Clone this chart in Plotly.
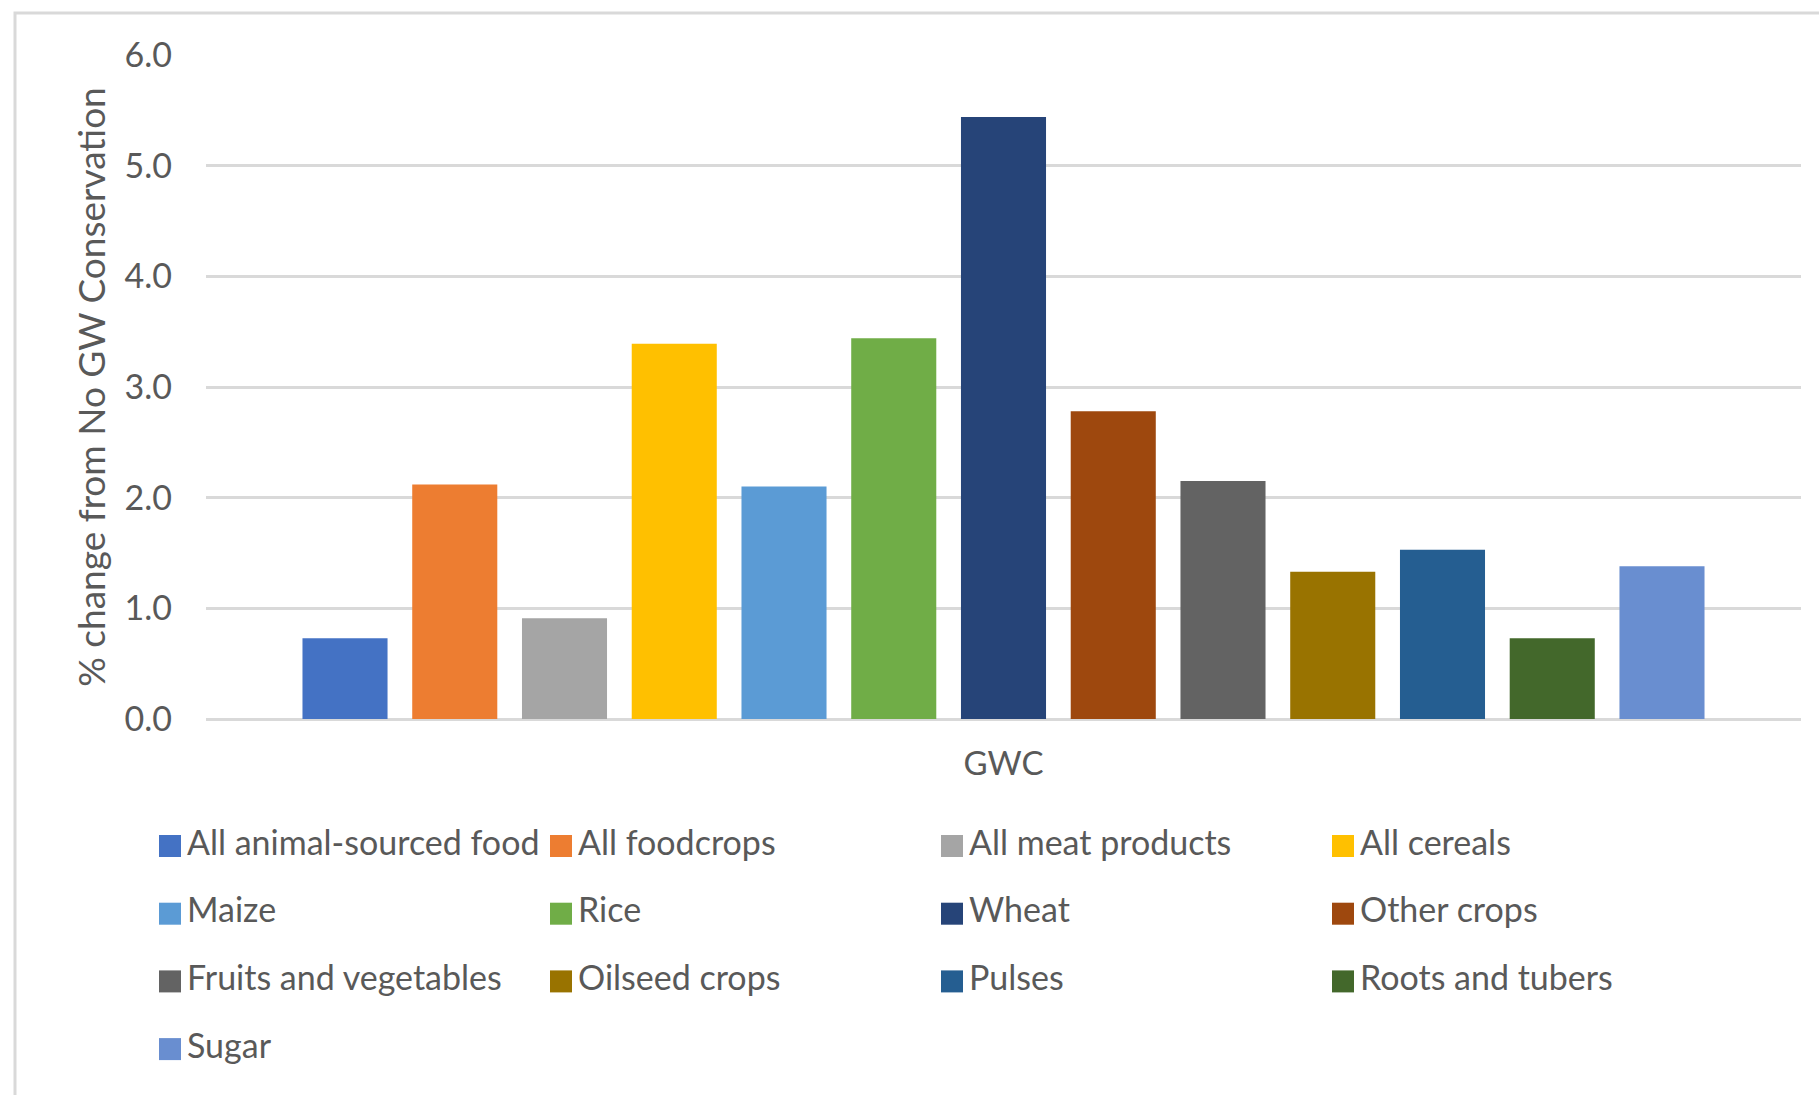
import plotly.graph_objects as go

# ---- data ----
category = ["GWC"]
series_names = [
    "All animal-sourced food", "All foodcrops", "All meat products", "All cereals",
    "Maize", "Rice", "Wheat", "Other crops",
    "Fruits and vegetables", "Oilseed crops", "Pulses", "Roots and tubers",
    "Sugar",
]
series_values = [0.73, 2.12, 0.91, 3.39, 2.10, 3.44, 5.44, 2.78, 2.15, 1.33, 1.53, 0.73, 1.38]
y_tick_vals = [0, 1, 2, 3, 4, 5, 6]
y_tick_text = ["0.0", "1.0", "2.0", "3.0", "4.0", "5.0", "6.0"]
y_title = "% change from No GW Conservation"

# ---- styles ----
colors = ["#4472C4", "#ED7D31", "#A5A5A5", "#FFC000", "#5B9BD5", "#70AD47",
          "#264478", "#9E480E", "#636363", "#997300", "#255E91", "#43682B", "#698ED0"]
FONT = "Lato"
TXT = "#595959"
GRID = "#D9D9D9"

W, H = 1819, 1095
L, R, T, B = 206, 18, 55, 376
PW, PH = W - L - R, H - T - B


def px_x(x):
    return (x - L) / PW


def px_y(y):
    return (H - B - y) / PH


fig = go.Figure()
for name, val, col in zip(series_names, series_values, colors):
    fig.add_trace(go.Bar(x=category, y=[val], name=name, marker_color=col,
                         marker_line_width=0, showlegend=False))

shapes = []
annotations = []
# chart-area border
shapes.append(dict(type="rect", xref="paper", yref="paper",
                   x0=px_x(15), x1=px_x(W + 10), y0=px_y(13), y1=px_y(H + 10),
                   line=dict(color=GRID, width=3), fillcolor="rgba(0,0,0,0)", layer="below"))

# manual legend (4 columns)
for i, (name, col) in enumerate(zip(series_names, colors)):
    r, c = divmod(i, 4)
    x0 = 159 + c * 391
    yc = 846 + r * 67.7
    shapes.append(dict(type="rect", xref="paper", yref="paper",
                       x0=px_x(x0), x1=px_x(x0 + 22), y0=px_y(yc + 11), y1=px_y(yc - 11),
                       line=dict(width=0), fillcolor=col))
    annotations.append(dict(xref="paper", yref="paper", x=px_x(x0 + 26), y=px_y(yc - 5),
                            text=name, showarrow=False, xanchor="left", yanchor="middle",
                            font=dict(family=FONT, size=34, color=TXT)))

fig.update_layout(
    width=W, height=H,
    margin=dict(l=L, r=R, t=T, b=B, autoexpand=False),
    paper_bgcolor="white", plot_bgcolor="white",
    barmode="group", bargap=0.1055, bargroupgap=0.225,
    font=dict(family=FONT, color=TXT, size=33),
    shapes=shapes, annotations=annotations,
    showlegend=False,
)
fig.update_yaxes(range=[0, 6], tickvals=y_tick_vals, ticktext=y_tick_text,
                 showgrid=True, gridcolor=GRID, gridwidth=3,
                 zeroline=True, zerolinecolor=GRID, zerolinewidth=3,
                 showline=False, ticks="", ticklabelstandoff=33,
                 tickfont=dict(family=FONT, size=34, color=TXT),
                 title=dict(text=y_title, standoff=7,
                            font=dict(family=FONT, size=37, color=TXT)),
                 automargin=False)
fig.update_xaxes(showgrid=False, showline=False, ticks="", ticklabelstandoff=22,
                 tickfont=dict(family=FONT, size=33, color=TXT), automargin=False)

fig.write_html("out.html")
